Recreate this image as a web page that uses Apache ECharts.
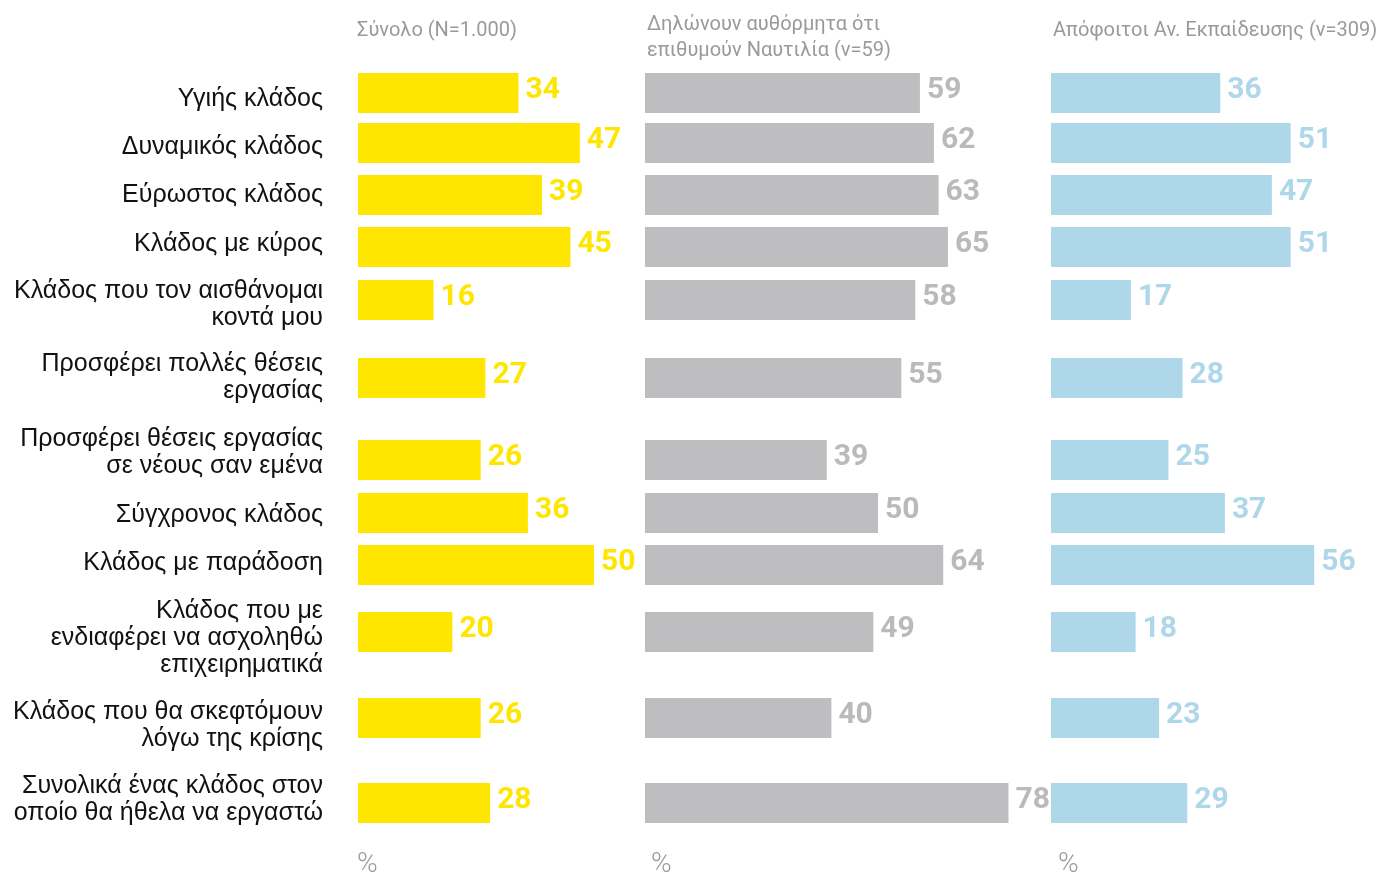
<!DOCTYPE html>
<html>
<head>
<meta charset="utf-8">
<title>Κλάδος Ναυτιλίας</title>
<script src="https://cdn.jsdelivr.net/npm/echarts@6/dist/echarts.min.js"></script>
<style>
  html, body { margin: 0; padding: 0; background: #fff; }
  #main { width: 1384px; height: 877px; }
</style>
</head>
<body>
<div id="main"></div>
<script>
// κατηγορίες (γραμμές του γραφήματος)
var categories = [
  'Υγιής κλάδος',
  'Δυναμικός κλάδος',
  'Εύρωστος κλάδος',
  'Κλάδος με κύρος',
  'Κλάδος που τον αισθάνομαι\nκοντά μου',
  'Προσφέρει πολλές θέσεις\nεργασίας',
  'Προσφέρει θέσεις εργασίας\nσε νέους σαν εμένα',
  'Σύγχρονος κλάδος',
  'Κλάδος με παράδοση',
  'Κλάδος που με\nενδιαφέρει να ασχοληθώ\nεπιχειρηματικά',
  'Κλάδος που θα σκεφτόμουν\nλόγω της κρίσης',
  'Συνολικά ένας κλάδος στον\nοποίο θα ήθελα να εργαστώ'
]

// τιμές (%)
var totalValues = [34, 47, 39, 45, 16, 27, 26, 36, 50, 20, 26, 28]
var shippingValues = [59, 62, 63, 65, 58, 55, 39, 50, 64, 49, 40, 78]
var graduateValues = [36, 51, 47, 51, 17, 28, 25, 37, 56, 18, 23, 29]

var panelTitles = [
  'Σύνολο (N=1.000)',
  'Δηλώνουν αυθόρμητα ότι\nεπιθυμούν Ναυτιλία (v=59)',
  'Απόφοιτοι Αν. Εκπαίδευσης (v=309)'
]
var unitLabel = '%'

// διάταξη: κέντρα γραμμών στον κατακόρυφο άξονα (ο πίνακας δεν έχει ίσα διαστήματα)
var rowCenter = [93, 143, 195, 247, 300, 378, 460, 513, 565, 632, 718, 803]
var labelCenter = [99, 147, 195, 244, 305, 378, 453, 515, 563, 638, 726, 800]

var colors = ['#FFE600', '#BEBEC0', '#AED8EA']
var labelColors = ['#FFE600', '#BABABC', '#AED8EA']
var panelLeft = [358, 645, 1051]
var titleLeft = [357, 647, 1053]
var titleTop = [18, 12, 18]
var unitLeft = [357, 651, 1058]
var pxPerUnit = [4.72, 4.66, 4.70]
var axisMax = 70

var chart = echarts.init(document.getElementById('main'))

var grids = [], xAxes = [], yAxes = [], series = [], titles = []
var panelValues = [totalValues, shippingValues, graduateValues]

panelValues.forEach(function (vals, i) {
  grids.push({ left: panelLeft[i], top: 0, width: axisMax * pxPerUnit[i], height: 877 })
  xAxes.push({ type: 'value', gridIndex: i, min: 0, max: axisMax, show: false })
  yAxes.push({ type: 'value', gridIndex: i, min: 0, max: 877, inverse: true, show: false })

  series.push({
    type: 'custom',
    xAxisIndex: i,
    yAxisIndex: i,
    silent: true,
    data: vals.map(function (v, k) { return [v, rowCenter[k]] }),
    renderItem: function (params, api) {
      var v = api.value(0)
      var start = api.coord([0, api.value(1)])
      var end = api.coord([v, api.value(1)])
      var h = 40
      return {
        type: 'group',
        children: [
          {
            type: 'rect',
            shape: { x: start[0], y: start[1] - h / 2, width: end[0] - start[0], height: h },
            style: { fill: colors[i] }
          },
          {
            type: 'text',
            x: end[0] + 7,
            y: start[1] - 3,
            style: {
              text: String(v),
              fill: labelColors[i],
              font: 'bold 30px Roboto',
              verticalAlign: 'middle',
              align: 'left'
            }
          }
        ]
      }
    }
  })

  titles.push({
    text: panelTitles[i],
    left: titleLeft[i],
    top: titleTop[i],
    padding: 0,
    textStyle: { fontFamily: 'Roboto', fontWeight: 'normal', fontSize: 20, color: '#9a9a9a', lineHeight: 26 }
  })
  titles.push({
    text: unitLabel,
    left: unitLeft[i],
    top: 851,
    padding: 0,
    textStyle: { fontFamily: 'Roboto', fontWeight: 300, fontSize: 28, color: '#9a9a9a' }
  })
})

// ετικέτες κατηγοριών, στο πρώτο πάνελ
series.push({
  type: 'custom',
  xAxisIndex: 0,
  yAxisIndex: 0,
  silent: true,
  data: categories.map(function (c, k) { return [0, labelCenter[k]] }),
  renderItem: function (params, api) {
    var p = api.coord([0, api.value(1)])
    return {
      type: 'text',
      x: p[0] - 35,
      y: p[1],
      style: {
        text: categories[params.dataIndex],
        fill: '#111',
        font: '25px "Liberation Sans"',
        lineHeight: 27,
        align: 'right',
        verticalAlign: 'middle'
      }
    }
  }
})

chart.setOption({
  animation: false,
  title: titles,
  grid: grids,
  xAxis: xAxes,
  yAxis: yAxes,
  series: series
})
</script>
</body>
</html>
